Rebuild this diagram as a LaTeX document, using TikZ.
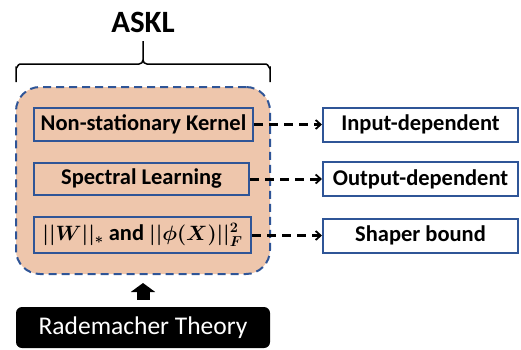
\documentclass[tikz,border=0pt]{standalone}
\usepackage{amsmath}
\usepackage{fontspec}
\setmainfont{Carlito}
\usetikzlibrary{arrows.meta}
\definecolor{askblue}{RGB}{47,85,151}
\definecolor{askpeach}{RGB}{238,198,172}
\begin{document}
\begin{tikzpicture}%
	[x=1pt, y=-1pt,
	title/.style={font=\fontsize{31}{34}\selectfont\bfseries},
	brace/.style={color=black, line width=1.5pt},
	group/.style={draw=askblue, fill=askpeach, line width=2pt, dash pattern=on 8pt off 5pt, rounded corners=24pt, minimum width=254pt, minimum height=187pt},
	innerbox/.style={draw=askblue, line width=2pt, minimum height=33pt, inner sep=0pt, font=\fontsize{22.5}{26}\selectfont\bfseries},
	outbox/.style={draw=askblue, fill=white, line width=2pt, minimum width=195pt, minimum height=34pt, inner sep=0pt, font=\fontsize{22.5}{26}\selectfont\bfseries},
	linkedge/.style={color=black, line width=3pt, dash pattern=on 9pt off 6pt, -{Straight Barb[length=5pt,width=9pt,line width=1.8pt]}},
	upedge/.style={color=black, line width=13pt, -{Triangle[length=9pt,width=24pt]}},
	theory/.style={fill=black, text=white, rounded corners=6pt, minimum width=254pt, minimum height=41pt, font=\fontsize{25.5}{28}\selectfont}]
	\useasboundingbox (0,0) rectangle (521,349);

	\node[title] (askl) at (143,22) {ASKL};
	\draw[brace] (16,82) -- (16,68) to[out=-90,in=180] (20,64) -- (139,64) to[out=0,in=-90] (143,60) -- (143,41);
	\draw[brace] (270,82) -- (270,68) to[out=-90,in=0] (266,64) -- (147,64) to[out=180,in=-90] (143,60);

	\node[group] (askbox) at (143,180.5) {};
	\node[innerbox, minimum width=219pt] (kernel) at (143.5,124.5) {Non-stationary Kernel};
	\node[innerbox, minimum width=215pt, minimum height=32pt] (spectral) at (141.5,179) {Spectral Learning};
	\node[innerbox, minimum width=217pt, minimum height=36pt] (norms) at (142.5,235) {{\boldmath$||W||_{*}$} and {\boldmath$||\phi(X)||^{2}_{F}$}};

	%outputs
	\node[outbox] (input) at (420.5,124.5) {Input-dependent};
	\node[outbox] (output) at (420.5,179) {Output-dependent};
	\node[outbox] (shaper) at (420.5,235.5) {Shaper bound};
	\draw[linkedge] (kernel) -- (input);
	\draw[linkedge] (spectral.east |- output) -- (output);
	\draw[linkedge] (norms.east |- shaper) -- (shaper);

	\node[theory] (rademacher) at (143,327.5) {Rademacher Theory};
	\draw[upedge, shorten <=7pt, shorten >=8pt] (rademacher) -- (askbox);
\end{tikzpicture}
\end{document}
